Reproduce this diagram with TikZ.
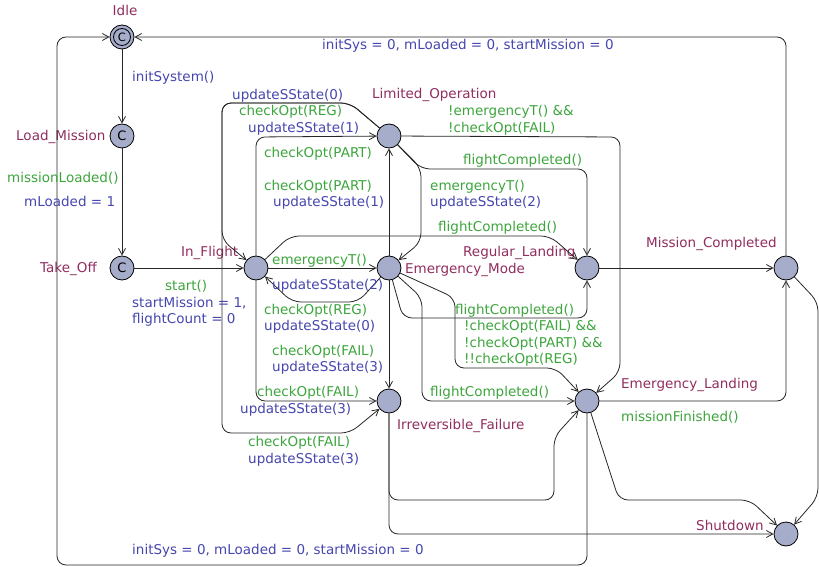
\documentclass[tikz,border=0pt]{standalone}
\usepackage{fontspec}
\setmainfont{DejaVu Sans}
\usetikzlibrary{arrows.meta}
\definecolor{locname}{RGB}{145,45,95}
\definecolor{guardc}{RGB}{60,165,60}
\definecolor{updc}{RGB}{70,70,175}
\definecolor{locfill}{RGB}{165,173,203}
\newcommand\lblfont{\fontsize{13.5}{16}\selectfont}
\tikzset{
  loc/.style={circle, draw=black, fill=locfill, minimum size=24pt, inner sep=0pt, line width=0.8pt},
  txt/.style={inner sep=0pt, anchor=west, font=\lblfont, text height=10pt, text depth=3pt},
  lname/.style={txt, text=locname},
  grd/.style={txt, text=guardc},
  upd/.style={txt, text=updc},
  trans/.style={draw=black!85, line width=0.8pt, rounded corners=9pt,
    -{Straight Barb[length=6.5pt,width=7pt]}},
}
\begin{document}
\begin{tikzpicture}[x=1pt, y=-1pt]
\useasboundingbox (0,0) rectangle (819,567);

% locations
\node[loc] (idle) at (122,37) {};
\node[circle, draw=black, minimum size=17pt, inner sep=0pt, line width=0.8pt, font=\fontsize{11.5}{11.5}\selectfont] (idlein) at (idle) {C};
\node[loc, font=\fontsize{13}{13}\selectfont] (load) at (122,136) {C};
\node[loc, font=\fontsize{13}{13}\selectfont] (take) at (122,268) {C};
\node[loc] (flight) at (256,268) {};
\node[loc] (limited) at (389,136) {};
\node[loc] (emode) at (389,268) {};
\node[loc] (regular) at (587,268) {};
\node[loc] (mcomp) at (786,268) {};
\node[loc] (irrf) at (389,401) {};
\node[loc] (eland) at (587,401) {};
\node[loc] (shut) at (786,534) {};

% location names
\node[lname, anchor=center] (nIdle) at (125,12) {Idle};
\node[lname] (nLoad) at (16,137) {Load\_Mission};
\node[lname] (nTake) at (40,269) {Take\_Off};
\node[lname] (nFlight) at (181,253) {In\_Flight};
\node[lname] (nLimited) at (372,95) {Limited\_Operation};
\node[lname] (nEmode) at (405,270) {Emergency\_Mode};
\node[lname] (nRegular) at (463,253) {Regular\_Landing};
\node[lname] (nMcomp) at (646,244) {Mission\_Completed};
\node[lname] (nIrrf) at (397,426) {Irreversible\_Failure};
\node[lname] (nEland) at (621,385) {Emergency\_Landing};
\node[lname] (nShut) at (696,527) {Shutdown};

% transitions
\draw[trans] (idle) -- (load);
\draw[trans] (load) -- (take);
\draw[trans] (take) -- (flight);
\draw[trans] (mcomp) -- (786,37) -- (idle);
\draw[trans] (eland) -- (587,565) -- (57,565) -- (57,37) -- (idle);
\draw[trans] (limited) -- (350,103) -- (222,103) -- (222,240) -- (flight);
\draw[trans] (limited) -- (350,103) -- (222,103) -- (222,433) -- (350,433) -- (irrf);
\draw[trans] (flight) -- (256,137) -- (limited);
\draw[trans] (emode) -- (limited);
\draw[trans] (limited) -- (421,168) -- (421,242) -- (emode);
\draw[trans] (limited) -- (421,169) -- (587,169) -- (regular);
\draw[trans] (limited) -- (620,137) -- (620,372) -- (eland);
\draw[trans] (flight) -- (290,236) -- (550,236) -- (regular);
\draw[trans] (flight) -- (emode);
\draw[trans] (emode) -- (358,302) -- (292,302) -- (flight);
\draw[trans] (flight) -- (256,401) -- (irrf);
\draw[trans] (emode) -- (irrf);
\draw[trans] (emode) -- (403,318) -- (587,318) -- (regular);
\draw[trans] (emode) -- (455,298) -- (455,368) -- (556,368) -- (eland);
\draw[trans] (emode) -- (422,298) -- (422,401) -- (eland);
\draw[trans] (regular) -- (mcomp);
\draw[trans] (eland) -- (786,401) -- (mcomp);
\draw[trans] (mcomp) -- (818,302) -- (818,497) -- (shut);
\draw[trans] (eland) -- (619,500) -- (750,500) -- (shut);
\draw[trans] (irrf) -- (389,500) -- (554,500) -- (554,437) -- (eland);
\draw[trans] (irrf) -- (389,534) -- (shut);

% guards and updates
\node[upd] (u1) at (132,78) {initSystem()};
\node[grd] (g2) at (7,179) {missionLoaded()};
\node[upd] (u2) at (24,203) {mLoaded = 1};
\node[grd] (g3) at (165,287) {start()};
\node[upd] (u3a) at (132,304) {startMission = 1,};
\node[upd] (u3b) at (132,320) {flightCount = 0};
\node[upd] (u4) at (322,46) {initSys = 0, mLoaded = 0, startMission = 0};
\node[upd] (u5) at (132,551) {initSys = 0, mLoaded = 0, startMission = 0};
\node[upd] (u6) at (232,96) {updateSState(0)};
\node[grd] (g6) at (239,112) {checkOpt(REG)};
\node[upd] (u8) at (248,129) {updateSState(1)};
\node[grd] (g8) at (264,154) {checkOpt(PART)};
\node[grd] (g9) at (264,187) {checkOpt(PART)};
\node[upd] (u9) at (273,203) {updateSState(1)};
\node[grd] (g11a) at (448,112) {!emergencyT() \&\&};
\node[grd] (g11b) at (448,129) {!checkOpt(FAIL)};
\node[grd] (g10r) at (463,161) {flightCompleted()};
\node[grd] (g10) at (430,187) {emergencyT()};
\node[upd] (u10) at (430,203) {updateSState(2)};
\node[grd] (g12) at (438,228) {flightCompleted()};
\node[grd] (g13) at (272,261) {emergencyT()};
\node[upd] (u13) at (272,286) {updateSState(2)};
\node[grd] (g14) at (264,311) {checkOpt(REG)};
\node[upd] (u14) at (264,327) {updateSState(0)};
\node[grd] (g16) at (272,352) {checkOpt(FAIL)};
\node[upd] (u16) at (272,368) {updateSState(3)};
\node[grd] (g15) at (257,393) {checkOpt(FAIL)};
\node[upd] (u15) at (240,410) {updateSState(3)};
\node[grd] (g7) at (248,443) {checkOpt(FAIL)};
\node[upd] (u7) at (248,460) {updateSState(3)};
\node[grd] (g17) at (455,311) {flightCompleted()};
\node[grd] (g18a) at (464,327) {!checkOpt(FAIL) \&\&};
\node[grd] (g18b) at (464,344) {!checkOpt(PART) \&\&};
\node[grd] (g18c) at (464,360) {!!checkOpt(REG)};
\node[grd] (g19) at (430,393) {flightCompleted()};
\node[grd] (g21) at (621,418) {missionFinished()};
\end{tikzpicture}
\end{document}
